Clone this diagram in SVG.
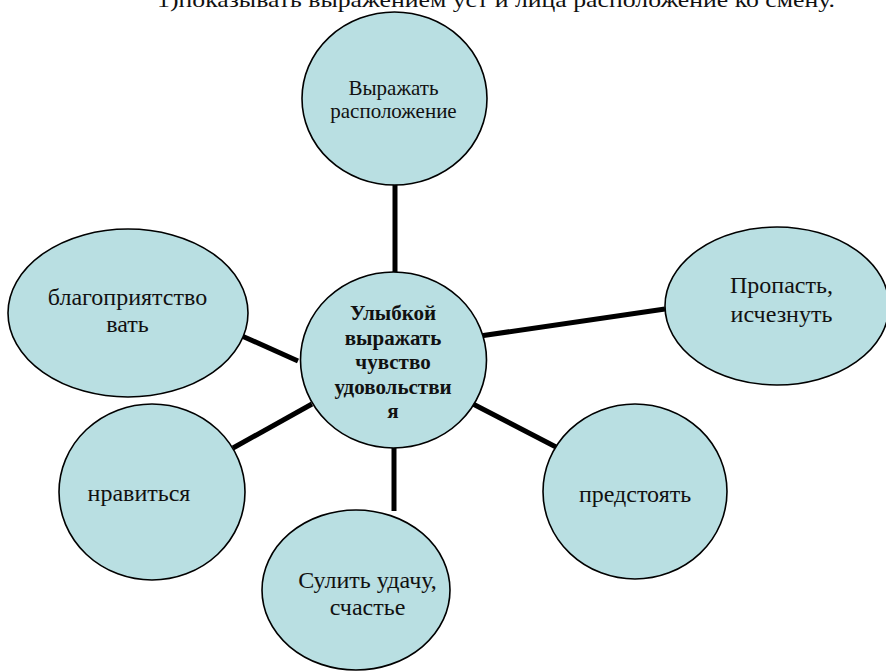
<svg xmlns="http://www.w3.org/2000/svg" width="886" height="671" viewBox="0 0 886 671">
<style>
.n{fill:#b9dfe2;stroke:#000;stroke-width:1.6}
.t{font-family:"Liberation Serif","Times New Roman",serif;font-size:24px;fill:#111;text-anchor:middle}
.s{font-size:21px}
.b{font-weight:bold;font-size:21px}
.c{stroke:#000;stroke-width:5;fill:none}
</style>
<rect width="886" height="671" fill="#fff"/>
<text x="496" y="7" class="t" style="font-size:22px" textLength="678" lengthAdjust="spacingAndGlyphs">1)показывать выражением уст и лица расположение ко смену.</text>
<g id="connectors">
<line class="c" x1="395" y1="184" x2="395" y2="273"/>
<line class="c" x1="480" y1="336" x2="665" y2="309"/>
<line class="c" x1="242" y1="336" x2="298" y2="361"/>
<line class="c" x1="233" y1="448" x2="312" y2="404"/>
<line class="c" x1="394" y1="447" x2="394" y2="511"/>
<line class="c" x1="473" y1="404" x2="556" y2="447"/>
</g>
<g id="top">
<ellipse class="n" cx="394.5" cy="98.5" rx="92.5" ry="86.5"/>
<text class="t s" x="393.5" y="95">Выражать</text>
<text class="t s" x="393.5" y="118">расположение</text>
</g>
<g id="right">
<ellipse class="n" cx="777" cy="306" rx="112" ry="79"/>
<text class="t" x="781.5" y="293">Пропасть,</text>
<text class="t" x="781.5" y="322">исчезнуть</text>
</g>
<g id="left">
<ellipse class="n" cx="128" cy="313" rx="120" ry="84"/>
<text class="t" x="127.5" y="305">благоприятство</text>
<text class="t" x="127.5" y="332">вать</text>
</g>
<g id="like">
<ellipse class="n" cx="152" cy="492" rx="93" ry="88"/>
<text class="t" x="139" y="501">нравиться</text>
</g>
<g id="bottom">
<ellipse class="n" cx="356" cy="590" rx="94" ry="80"/>
<text class="t" x="367.5" y="588">Сулить удачу,</text>
<text class="t" x="367.5" y="615">счастье</text>
</g>
<g id="ahead">
<ellipse class="n" cx="635" cy="491.5" rx="92" ry="87.5"/>
<text class="t" x="635" y="502">предстоять</text>
</g>
<g id="center">
<ellipse class="n" cx="393.5" cy="360" rx="93" ry="88"/>
<text class="t b" x="393" y="320">Улыбкой</text>
<text class="t b" x="393" y="345">выражать</text>
<text class="t b" x="393" y="369">чувство</text>
<text class="t b" x="393" y="394">удовольстви</text>
<text class="t b" x="393" y="418">я</text>
</g>
</svg>
